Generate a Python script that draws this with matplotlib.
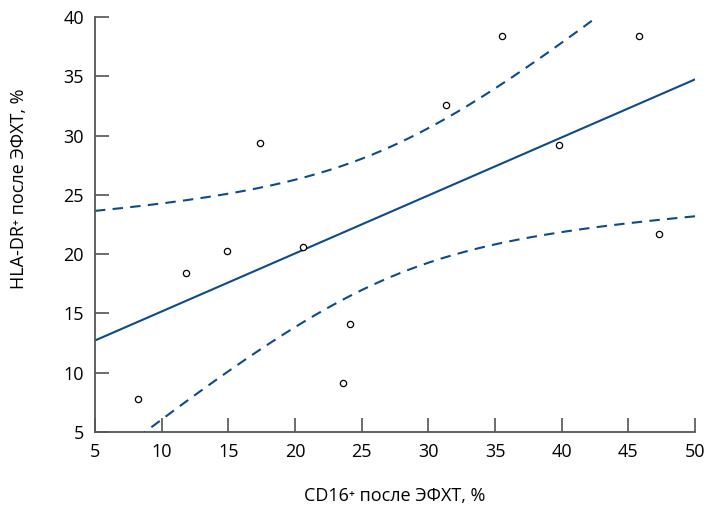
import numpy as np
import matplotlib.pyplot as plt

plt.rcParams['font.family'] = ['Open Sans', 'DejaVu Sans']

# CD16+ after EFCT, % / HLA-DR+ after EFCT, %
cd16 = [8.2, 11.8, 14.9, 17.4, 20.6, 23.6, 24.1, 31.3, 35.5, 39.8, 45.8, 47.3]
hladr = [7.8, 18.4, 20.3, 29.4, 20.6, 9.1, 14.1, 32.6, 38.4, 29.2, 38.4, 21.7]

x = np.array(cd16)
y = np.array(hladr)
n = len(x)

# linear fit + 95% confidence band for the mean
b, a = np.polyfit(x, y, 1)
resid = y - (a + b * x)
s = np.sqrt(np.sum(resid ** 2) / (n - 2))
sxx = np.sum((x - x.mean()) ** 2)
t = 2.228  # t(0.975, 10)

xx = np.linspace(5, 50, 200)
yy = a + b * xx
se = s * np.sqrt(1.0 / n + (xx - x.mean()) ** 2 / sxx)

blue = "#0d4a8c"

fig = plt.figure(figsize=(7.18, 5.11), dpi=100)
ax = fig.add_axes([0.1323, 0.1546, 0.8357, 0.8121])

ax.plot(xx, yy, color=blue, lw=1.5)
ax.plot(xx, yy + t * se, color=blue, lw=1.5, ls=(0, (5, 3.5)))
ax.plot(xx, yy - t * se, color=blue, lw=1.5, ls=(0, (5, 3.5)))
ax.plot(x, y, "o", ms=4.5, mfc="white", mec="black", mew=0.9, ls="none")

ax.set_xlim(5, 50)
ax.set_ylim(5, 40)
ax.set_xticks(np.arange(5, 51, 5))
ax.set_yticks(np.arange(5, 41, 5))

for sp in ["top", "right"]:
    ax.spines[sp].set_visible(False)
for sp in ["left", "bottom"]:
    ax.spines[sp].set_color("#555555")
    ax.spines[sp].set_linewidth(1.3)

ax.tick_params(direction="in", length=10, width=1.1, color="#444444",
               labelsize=13, pad=8)

ax.set_xlabel("CD16⁺ после ЭФХТ, %", fontsize=13, labelpad=19)
ax.set_ylabel("HLA-DR⁺ после ЭФХТ, %", fontsize=13)
ax.yaxis.set_label_coords(-0.112, 0.585)

fig.savefig("out.png", dpi=100)
